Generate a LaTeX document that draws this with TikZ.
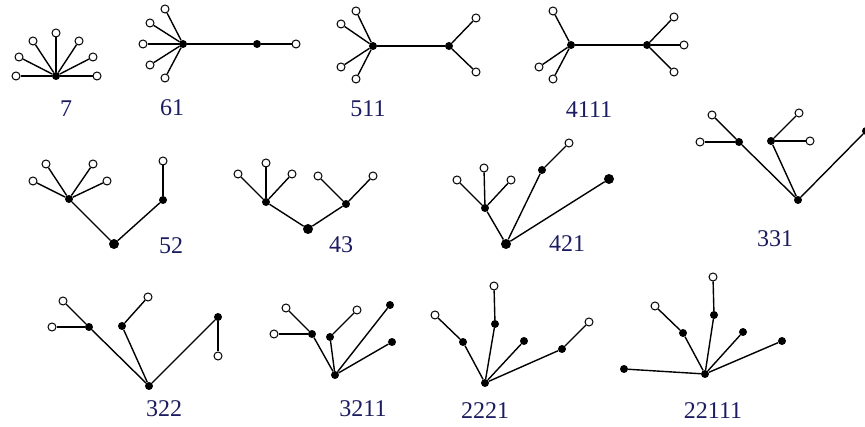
\documentclass[tikz,border=0pt]{standalone}
\usepackage{fontspec}
\setmainfont{Liberation Serif}
\definecolor{lblblue}{RGB}{28,28,96}
\begin{document}
\begin{tikzpicture}[x=1pt,y=-1pt,
  leaf/.style={circle,draw=black,fill=white,inner sep=0pt,minimum size=8pt,line width=1pt},
  blk/.style={circle,fill=black,inner sep=0pt,minimum size=8pt},
  bigblk/.style={circle,fill=black,inner sep=0pt,minimum size=10pt},
  lbl/.style={font=\fontsize{24}{26}\selectfont,text=lblblue,inner sep=0pt},
  edge/.style={line width=1.4pt,black}]
\useasboundingbox[fill=white] (0,0) rectangle (865,427);
\clip (0,0) rectangle (865,427);
% ---- 7
\node[blk] (a0) at (56,76) {};
\node[leaf] (a1) at (16,76) {};
\node[leaf] (a2) at (19,57) {};
\node[leaf] (a3) at (33,41) {};
\node[leaf] (a4) at (56,33) {};
\node[leaf] (a5) at (79,41) {};
\node[leaf] (a6) at (93,57) {};
\node[leaf] (a7) at (97,76) {};
\foreach \i in {1,...,7} \draw[edge] (a0) -- (a\i);
\node[lbl] (la) at (66,109) {7};
% ---- 61
\node[blk] (b0) at (183,44) {};
\node[leaf] (b1) at (165,9) {};
\node[leaf] (b2) at (150,23) {};
\node[leaf] (b3) at (143,44) {};
\node[leaf] (b4) at (150,65) {};
\node[leaf] (b5) at (165,78) {};
\node[blk] (b6) at (257,44) {};
\node[leaf] (b7) at (296,44) {};
\foreach \i in {1,...,6} \draw[edge] (b0) -- (b\i);
\draw[edge] (b6) -- (b7);
\node[lbl] (lb) at (172,108) {61};
% ---- 511
\node[blk] (c0) at (373,46) {};
\node[leaf] (c1) at (356,11) {};
\node[leaf] (c2) at (341,24) {};
\node[leaf] (c3) at (341,67) {};
\node[leaf] (c4) at (356,79) {};
\node[blk] (c5) at (449,46) {};
\node[leaf] (c6) at (476,18) {};
\node[leaf] (c7) at (476,72) {};
\foreach \i in {1,...,5} \draw[edge] (c0) -- (c\i);
\draw[edge] (c5) -- (c6);
\draw[edge] (c5) -- (c7);
\node[lbl] (lc) at (368,109) {511};
% ---- 4111
\node[blk] (d0) at (571,45) {};
\node[leaf] (d1) at (553,11) {};
\node[leaf] (d2) at (539,67) {};
\node[leaf] (d3) at (553,79) {};
\node[blk] (d4) at (647,45) {};
\node[leaf] (d5) at (674,17) {};
\node[leaf] (d6) at (684,45) {};
\node[leaf] (d7) at (674,72) {};
\foreach \i in {1,...,4} \draw[edge] (d0) -- (d\i);
\foreach \i in {5,6,7} \draw[edge] (d4) -- (d\i);
\node[lbl] (ld) at (589,110) {4111};
% ---- 52
\node[blk] (e0) at (69,199) {};
\node[leaf] (e1) at (33,181) {};
\node[leaf] (e2) at (46,164) {};
\node[leaf] (e3) at (93,164) {};
\node[leaf] (e4) at (107,181) {};
\node[bigblk] (e5) at (114,244) {};
\node[blk] (e6) at (163,200) {};
\node[leaf] (e7) at (163,161) {};
\foreach \i in {1,...,5} \draw[edge] (e0) -- (e\i);
\draw[edge] (e5) -- (e6);
\draw[edge] (e6) -- (e7);
\node[lbl] (le) at (171,246) {52};
% ---- 43
\node[blk] (f0) at (266,202) {};
\node[leaf] (f1) at (238,174) {};
\node[leaf] (f2) at (266,163) {};
\node[leaf] (f3) at (292,174) {};
\node[bigblk] (f4) at (308,229) {};
\node[blk] (f5) at (346,204) {};
\node[leaf] (f6) at (318,176) {};
\node[leaf] (f7) at (373,176) {};
\foreach \i in {1,...,4} \draw[edge] (f0) -- (f\i);
\draw[edge] (f4) -- (f5);
\draw[edge] (f5) -- (f6);
\draw[edge] (f5) -- (f7);
\node[lbl] (lf) at (341,245) {43};
% ---- 421
\node[blk] (g0) at (485,208) {};
\node[leaf] (g1) at (457,180) {};
\node[leaf] (g2) at (484,168) {};
\node[leaf] (g3) at (511,180) {};
\node[bigblk] (g4) at (506,244) {};
\node[blk] (g5) at (542,170) {};
\node[leaf] (g6) at (569,143) {};
\node[bigblk] (g7) at (609,179) {};
\foreach \i in {1,...,4} \draw[edge] (g0) -- (g\i);
\draw[edge] (g4) -- (g5);
\draw[edge] (g5) -- (g6);
\draw[edge] (g4) -- (g7);
\node[lbl] (lg) at (567,244) {421};
% ---- 331
\node[blk] (h0) at (739,142) {};
\node[leaf] (h1) at (712,115) {};
\node[leaf] (h2) at (700,142) {};
\node[blk] (h3) at (771,141) {};
\node[leaf] (h4) at (799,113) {};
\node[leaf] (h5) at (810,141) {};
\node[blk] (h6) at (798,200) {};
\node[blk] (h7) at (866,131) {};
\draw[edge] (h0) -- (h1);
\draw[edge] (h0) -- (h2);
\draw[edge] (h3) -- (h4);
\draw[edge] (h3) -- (h5);
\draw[edge] (h6) -- (h0);
\draw[edge] (h6) -- (h3);
\draw[edge] (h6) -- (h7);
\node[lbl] (lh) at (775,239) {331};
% ---- 322
\node[blk] (i0) at (89,327) {};
\node[leaf] (i1) at (63,301) {};
\node[leaf] (i2) at (52,327) {};
\node[blk] (i3) at (122,326) {};
\node[leaf] (i4) at (148,297) {};
\node[blk] (i5) at (149,386) {};
\node[blk] (i6) at (218,317) {};
\node[leaf] (i7) at (218,356) {};
\draw[edge] (i0) -- (i1);
\draw[edge] (i0) -- (i2);
\draw[edge] (i3) -- (i4);
\draw[edge] (i5) -- (i0);
\draw[edge] (i5) -- (i3);
\draw[edge] (i5) -- (i6);
\draw[edge] (i6) -- (i7);
\node[lbl] (li) at (164,409) {322};
% ---- 3211
\node[blk] (j0) at (312,334) {};
\node[leaf] (j1) at (286,308) {};
\node[leaf] (j2) at (274,334) {};
\node[blk] (j3) at (330,337) {};
\node[leaf] (j4) at (357,310) {};
\node[blk] (j5) at (335,375) {};
\node[blk] (j6) at (390,305) {};
\node[blk] (j7) at (392,342) {};
\draw[edge] (j0) -- (j1);
\draw[edge] (j0) -- (j2);
\draw[edge] (j3) -- (j4);
\draw[edge] (j5) -- (j0);
\draw[edge] (j5) -- (j3);
\draw[edge] (j5) -- (j6);
\draw[edge] (j5) -- (j7);
\node[lbl] (lj) at (363,409) {3211};
% ---- 2221
\node[blk] (k0) at (485,383) {};
\node[blk] (k1) at (463,342) {};
\node[leaf] (k2) at (435,315) {};
\node[blk] (k3) at (495,324) {};
\node[leaf] (k4) at (494,286) {};
\node[blk] (k5) at (524,341) {};
\node[blk] (k6) at (562,349) {};
\node[leaf] (k7) at (589,322) {};
\draw[edge] (k0) -- (k1);
\draw[edge] (k1) -- (k2);
\draw[edge] (k0) -- (k3);
\draw[edge] (k3) -- (k4);
\draw[edge] (k0) -- (k5);
\draw[edge] (k0) -- (k6);
\draw[edge] (k6) -- (k7);
\node[lbl] (lk) at (485,411) {2221};
% ---- 22111
\node[blk] (m0) at (705,374) {};
\node[blk] (m1) at (624,369) {};
\node[blk] (m2) at (683,333) {};
\node[leaf] (m3) at (655,306) {};
\node[blk] (m4) at (714,315) {};
\node[leaf] (m5) at (713,277) {};
\node[blk] (m6) at (743,332) {};
\node[blk] (m7) at (782,341) {};
\draw[edge] (m0) -- (m1);
\draw[edge] (m0) -- (m2);
\draw[edge] (m2) -- (m3);
\draw[edge] (m0) -- (m4);
\draw[edge] (m4) -- (m5);
\draw[edge] (m0) -- (m6);
\draw[edge] (m0) -- (m7);
\node[lbl] (lm) at (713,411) {22111};
\end{tikzpicture}
\end{document}
